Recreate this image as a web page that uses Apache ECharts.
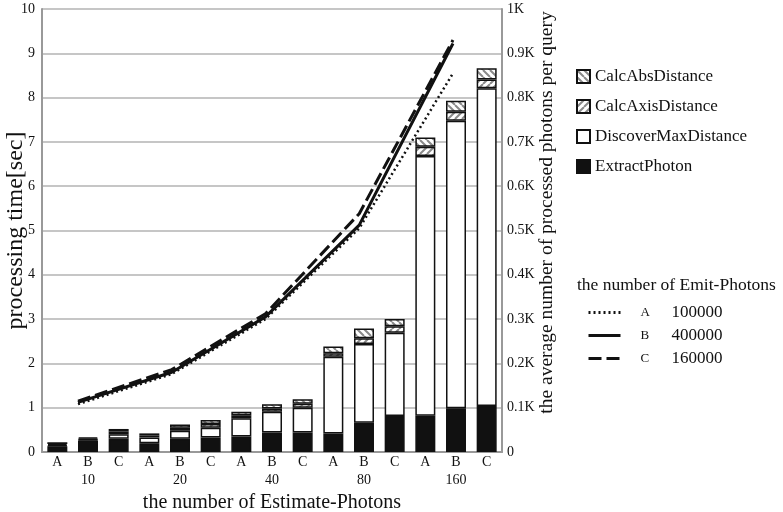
<!DOCTYPE html>
<html>
	<head>
		<meta charset="utf-8">
		<title></title>
	</head>
	<body style="margin:0">
		<div id="container" style="height: 512px; width: 783px"></div>
		<script type="text/javascript" src="https://cdn.jsdelivr.net/npm/echarts@6/dist/echarts.min.js"></script>
		<script type="text/javascript">
			var groups = ['10', '20', '40', '80', '160'];
			var runs = ['A', 'B', 'C'];
			var emitPhotons = ['100000', '400000', '160000'];

			// seconds, order: 10A 10B 10C 20A ... 160C
			var extractPhoton = [0.13, 0.26, 0.30, 0.20, 0.30, 0.33, 0.35, 0.44, 0.44, 0.42, 0.66, 0.81, 0.82, 0.99, 1.04];
			var discoverMax = [0.02, 0.02, 0.10, 0.13, 0.18, 0.22, 0.41, 0.47, 0.56, 1.73, 1.78, 1.88, 5.86, 6.49, 7.17];
			var calcAxis = [0.03, 0.02, 0.06, 0.04, 0.07, 0.08, 0.07, 0.07, 0.09, 0.08, 0.13, 0.15, 0.21, 0.20, 0.20];
			var calcAbs = [0.04, 0.03, 0.06, 0.05, 0.07, 0.09, 0.08, 0.10, 0.10, 0.15, 0.22, 0.16, 0.21, 0.25, 0.25];

			// average processed photons per query, one per group
			var photonsA = [108, 176, 300, 505, 855];
			var photonsB = [112, 180, 305, 512, 922];
			var photonsC = [115, 186, 312, 538, 930];

			var cats = [];
			groups.forEach(function (g) {
			    runs.forEach(function (r) { cats.push(r + '-' + g); });
			});

			function hatch(dir) {
			    var c = document.createElement('canvas');
			    c.width = c.height = 7;
			    var g = c.getContext('2d');
			    g.fillStyle = '#fff';
			    g.fillRect(0, 0, 7, 7);
			    g.strokeStyle = '#8a8a8a';
			    g.lineWidth = 2;
			    g.beginPath();
			    for (var k = -7; k <= 7; k += 7) {
			        if (dir > 0) {
			            g.moveTo(k, 7); g.lineTo(k + 7, 0);
			        } else {
			            g.moveTo(k, 0); g.lineTo(k + 7, 7);
			        }
			    }
			    g.stroke();
			    return {image: c, repeat: 'repeat'};
			}

			var serif = 'Liberation Serif';
			var dom = document.getElementById('container');
			var myChart = echarts.init(dom);

			function barSeries(name, values, color) {
			    return {
			        name: name,
			        type: 'bar',
			        stack: 'time',
			        barWidth: 20,
			        data: values,
			        itemStyle: {color: color, borderColor: '#111', borderWidth: 1.5}
			    };
			}

			function lineSeries(name, values, type, width) {
			    return {
			        name: name,
			        type: 'line',
			        xAxisIndex: 2,
			        yAxisIndex: 1,
			        symbol: 'none',
			        z: 5,
			        data: values.map(function (v, i) { return [i, v]; }),
			        itemStyle: {color: '#111'},
			        lineStyle: {color: '#111', width: width, type: type}
			    };
			}

			var option = {
			    animation: false,
			    textStyle: {fontFamily: serif},
			    grid: {left: 42, right: 281, top: 9, bottom: 60, outerBoundsMode: 'none'},
			    legend: [{
			        data: ['CalcAbsDistance', 'CalcAxisDistance', 'DiscoverMaxDistance', 'ExtractPhoton'],
			        orient: 'vertical',
			        left: 571,
			        top: 63,
			        itemWidth: 13,
			        itemHeight: 13,
			        itemGap: 13,
			        icon: 'rect',
			        textStyle: {fontFamily: serif, fontSize: 17, color: '#111'}
			    }, {
			        data: runs,
			        orient: 'vertical',
			        left: 582,
			        top: 299,
			        itemWidth: 32,
			        itemHeight: 13,
			        itemGap: 6,
			        itemStyle: {color: 'rgba(0,0,0,0)', borderWidth: 0},
			        lineStyle: {width: 3},
			        formatter: function (name) {
			            return '{a|' + name + '}{b|' + emitPhotons[runs.indexOf(name)] + '}';
			        },
			        textStyle: {
			            fontFamily: serif,
			            color: '#111',
			            rich: {
			                a: {fontFamily: serif, fontSize: 13, width: 31, padding: [0, 0, 0, 15]},
			                b: {fontFamily: serif, fontSize: 17}
			            }
			        }
			    }],
			    graphic: [{
			        type: 'text',
			        left: 577,
			        top: 276,
			        style: {text: 'the number of Emit-Photons', fontFamily: serif, fontSize: 17.5, fill: '#111'}
			    }],
			    xAxis: [{
			        type: 'category',
			        data: cats,
			        axisLine: {lineStyle: {color: '#999', width: 2}},
			        axisTick: {show: false},
			        axisLabel: {
			            color: '#111', fontSize: 14, margin: 3, interval: 0,
			            formatter: function (v) { return v.split('-')[0]; }
			        }
			    }, {
			        type: 'category',
			        data: groups,
			        position: 'bottom',
			        offset: 17,
			        name: 'the number of Estimate-Photons',
			        nameLocation: 'middle',
			        nameGap: 24,
			        nameMoveOverlap: false,
			        nameTextStyle: {fontFamily: serif, fontSize: 20, color: '#111'},
			        axisLine: {show: false},
			        axisTick: {show: false},
			        axisLabel: {color: '#111', fontSize: 14, margin: 4}
			    }, {
			        type: 'value',
			        min: -0.384,
			        max: 4.523,
			        show: false
			    }],
			    yAxis: [{
			        type: 'value',
			        min: 0,
			        max: 10,
			        interval: 1,
			        name: 'processing time[sec]',
			        nameLocation: 'middle',
			        nameRotate: 90,
			        nameGap: 14,
			        nameMoveOverlap: false,
			        nameTextStyle: {fontFamily: serif, fontSize: 24, color: '#111'},
			        axisLine: {show: true, onZero: false, lineStyle: {color: '#999', width: 2}},
			        axisTick: {show: false},
			        axisLabel: {color: '#111', fontSize: 14, margin: 7},
			        splitLine: {lineStyle: {color: '#b3b3b3', width: 1.5}}
			    }, {
			        type: 'value',
			        min: 0,
			        max: 1000,
			        interval: 100,
			        position: 'right',
			        name: 'the average number of processed photons per query',
			        nameLocation: 'middle',
			        nameRotate: 90,
			        nameGap: 35,
			        nameMoveOverlap: false,
			        nameTextStyle: {fontFamily: serif, fontSize: 19.5, color: '#111', padding: [0, 0, 0, 36]},
			        axisLine: {show: true, onZero: false, lineStyle: {color: '#999', width: 2}},
			        axisTick: {show: false},
			        axisLabel: {
			            color: '#111', fontSize: 14, margin: 5,
			            formatter: function (v) { return v === 0 ? '0' : (v / 1000) + 'K'; }
			        },
			        splitLine: {show: false}
			    }],
			    series: [
			        barSeries('ExtractPhoton', extractPhoton, '#111'),
			        barSeries('DiscoverMaxDistance', discoverMax, '#fff'),
			        barSeries('CalcAxisDistance', calcAxis, hatch(1)),
			        barSeries('CalcAbsDistance', calcAbs, hatch(-1)),
			        lineSeries('A', photonsA, [2, 3], 2.5),
			        lineSeries('B', photonsB, 'solid', 3),
			        lineSeries('C', photonsC, [13, 5], 3)
			    ]
			};
			myChart.setOption(option);
		</script>
	</body>
</html>
